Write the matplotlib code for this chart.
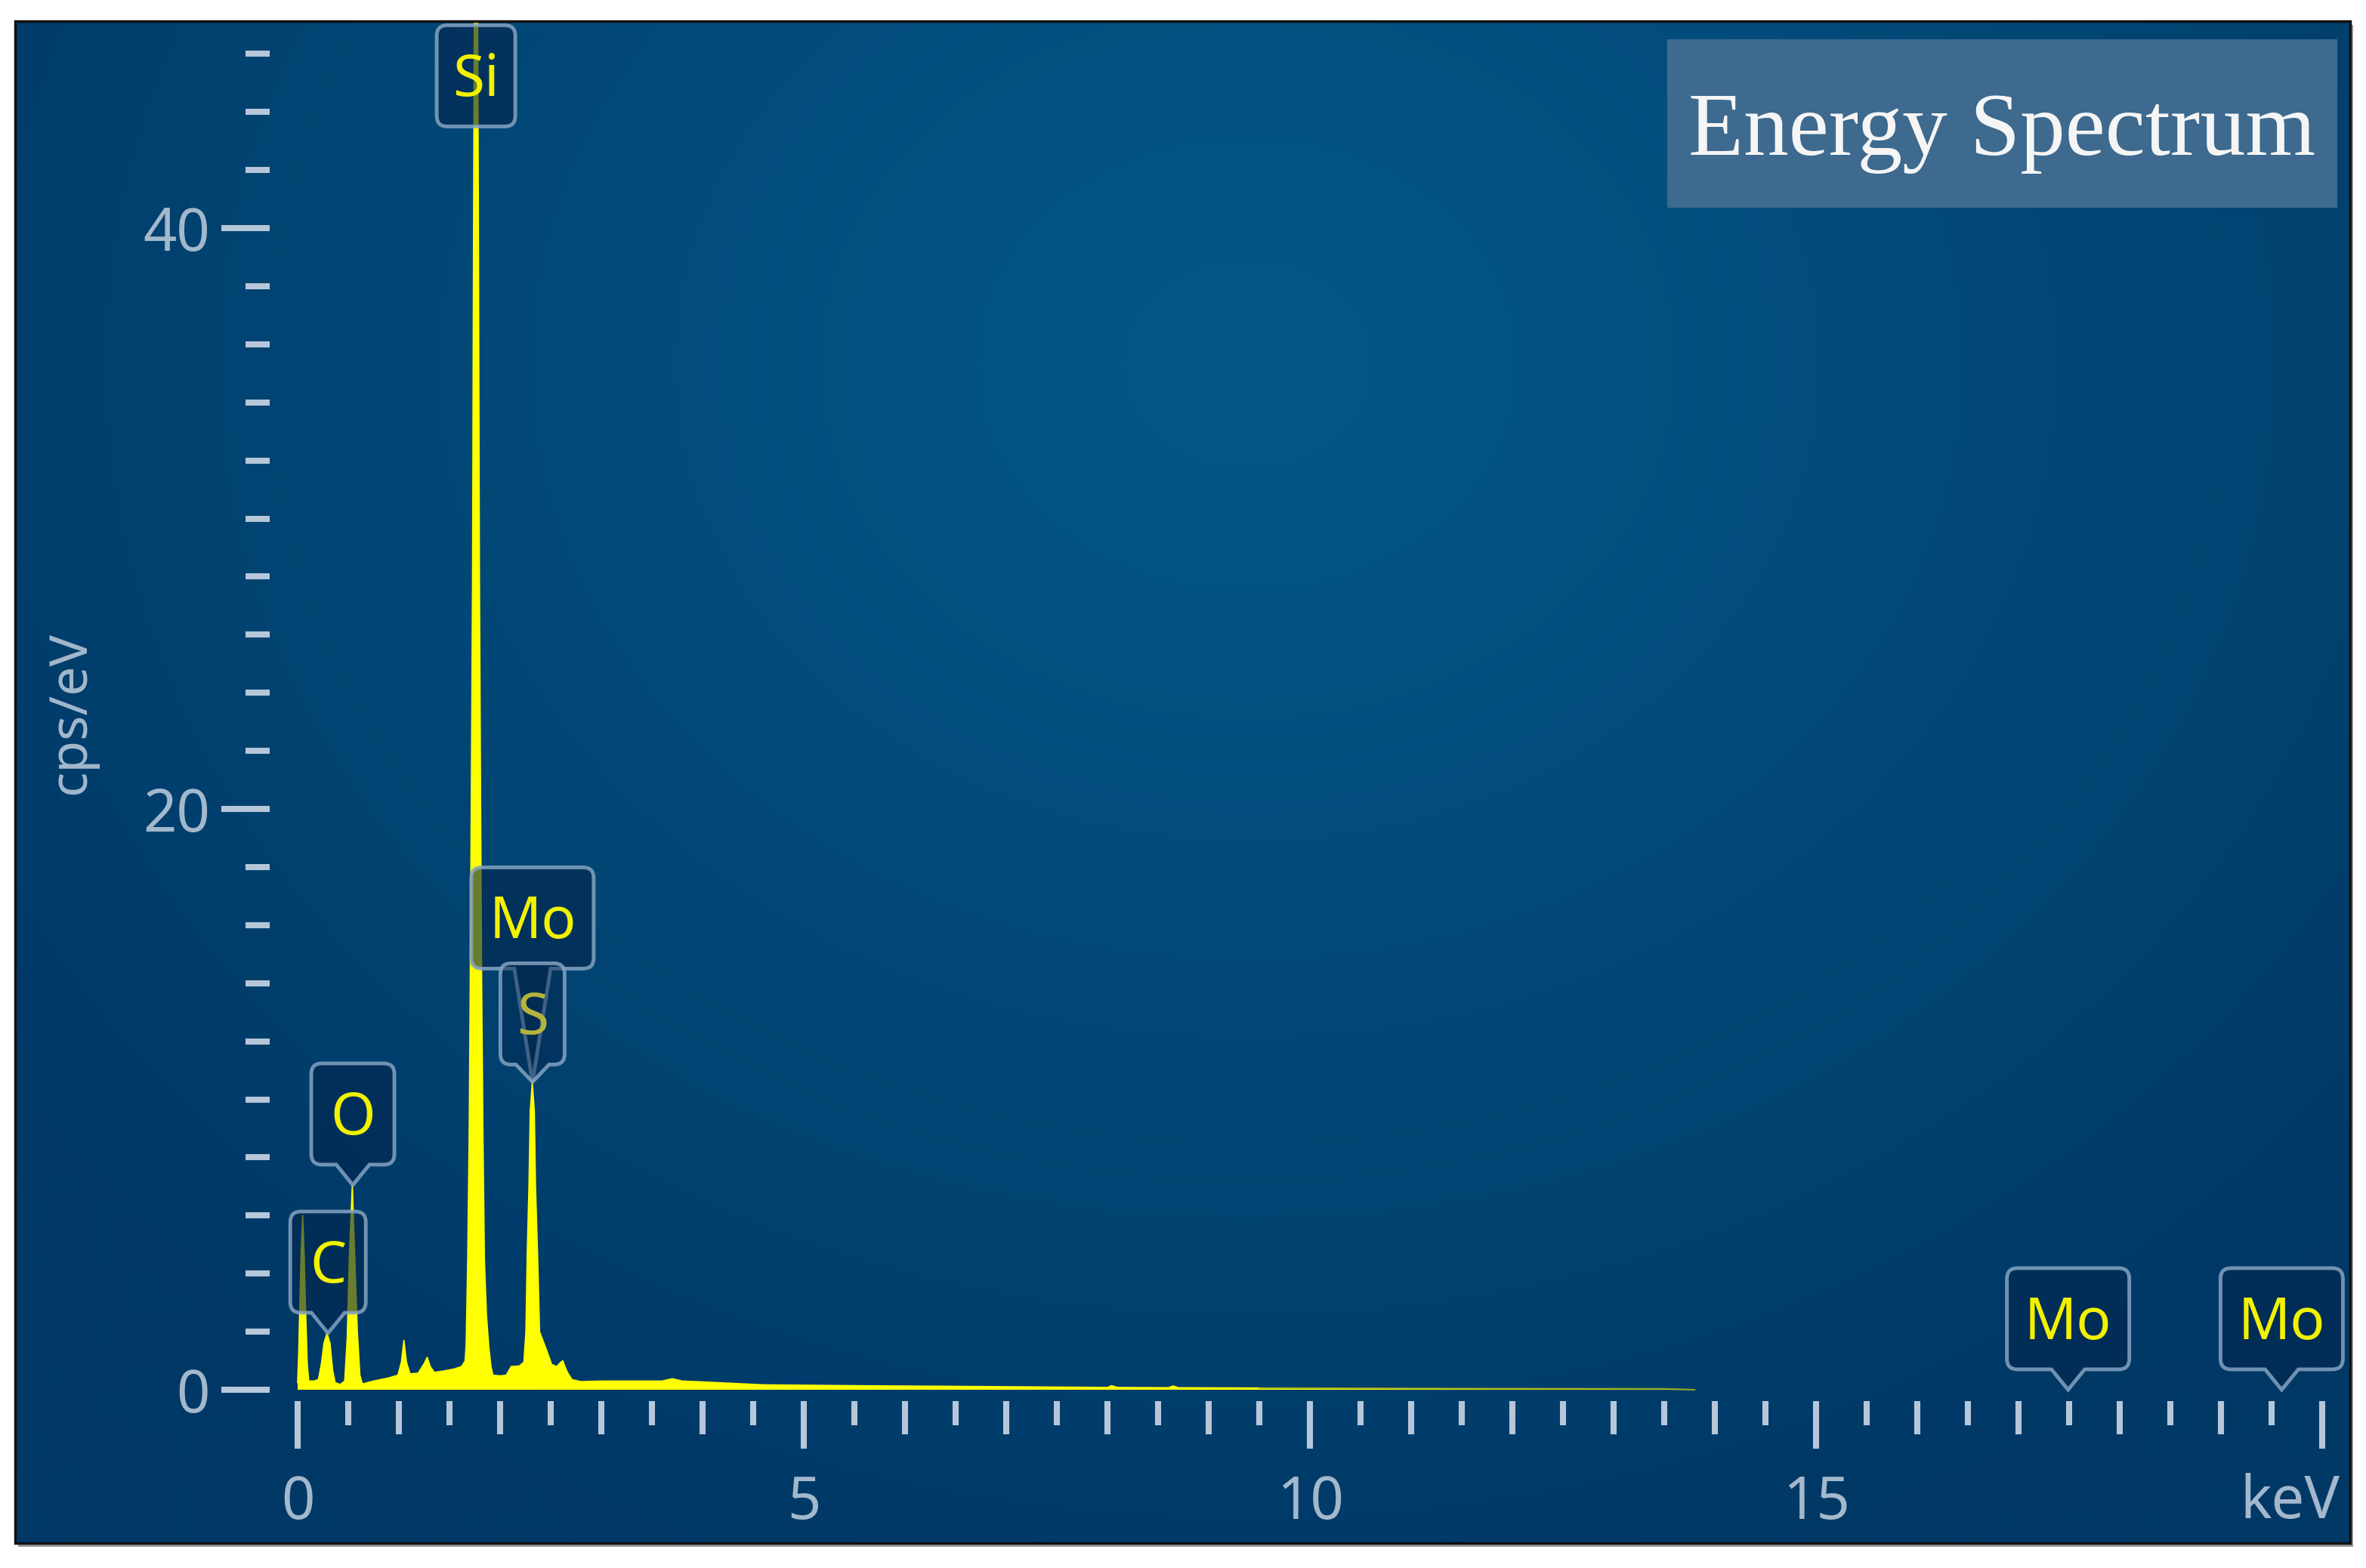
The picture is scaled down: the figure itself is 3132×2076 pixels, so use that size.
import numpy as np
import matplotlib
matplotlib.use("Agg")
import matplotlib.pyplot as plt
from matplotlib.path import Path
from matplotlib.patches import PathPatch, Rectangle
from matplotlib.transforms import IdentityTransform
from matplotlib.ticker import FixedLocator, NullFormatter

plt.rcParams['font.family'] = ['Noto Sans', 'DejaVu Sans']

# spectrum outline
energy_kev = [0.000, 0.010, 0.020, 0.035, 0.050, 0.065, 0.080, 0.095, 0.110, 0.160,
              0.205, 0.235, 0.260, 0.290, 0.320, 0.345, 0.370, 0.420, 0.465, 0.490,
              0.510, 0.540, 0.565, 0.590, 0.615, 0.640, 0.750, 0.890, 0.990, 1.025,
              1.050, 1.075, 1.110, 1.190, 1.250, 1.280, 1.310, 1.350, 1.450, 1.550,
              1.620, 1.655, 1.665, 1.680, 1.695, 1.705, 1.715, 1.728, 1.738, 1.748,
              1.762, 1.776, 1.786, 1.796, 1.808, 1.818, 1.830, 1.845, 1.865, 1.888,
              1.910, 1.930, 2.000, 2.060, 2.110, 2.190, 2.235, 2.255, 2.268, 2.285,
              2.298, 2.318, 2.338, 2.350, 2.370, 2.390, 2.450, 2.510, 2.560, 2.600,
              2.620, 2.640, 2.665, 2.710, 2.800, 3.000, 3.300, 3.600, 3.700, 3.800,
              4.000, 4.600, 5.500, 6.400, 7.200, 8.000, 8.040, 8.100, 8.600, 8.650,
              8.700, 9.500, 10.50, 11.50, 12.50, 13.50, 13.80]
cps_per_ev = [0.25, 1.2, 2.7, 4.8, 6.0, 4.6, 2.6, 0.9, 0.30, 0.30,
              0.35, 0.9, 1.6, 1.95, 1.6, 0.7, 0.25, 0.18, 0.30, 1.8,
              4.5, 7.05, 4.5, 2.0, 0.5, 0.20, 0.30, 0.40, 0.50, 0.95,
              1.70, 0.95, 0.55, 0.57, 0.90, 1.12, 0.80, 0.60, 0.65, 0.72,
              0.80, 1.00, 1.6, 4.5, 9.0, 14.0, 20.0, 28.0, 40.0, 50.0,
              56.0, 50.0, 40.0, 28.0, 20.0, 14.0, 9.0, 4.5, 2.6, 1.5,
              0.80, 0.50, 0.48, 0.50, 0.80, 0.82, 0.95, 2.0, 4.7, 7.0,
              9.6, 10.6, 9.6, 7.0, 4.7, 2.0, 1.45, 0.87, 0.80, 0.95,
              1.00, 0.80, 0.60, 0.35, 0.28, 0.30, 0.30, 0.30, 0.38, 0.30,
              0.27, 0.17, 0.14, 0.12, 0.10, 0.08, 0.14, 0.08, 0.07, 0.13,
              0.07, 0.06, 0.05, 0.04, 0.035, 0.03, 0.0]

# element markers: text, energy, height of the pointer tip
label_text = ["C", "O", "Si", "Mo", "S", "Mo", "Mo"]
label_kev = [0.30, 0.545, 1.762, 2.32, 2.32, 17.49, 19.60]
label_tip = [1.95, 7.05, 43.5, 10.6, 10.6, 0.0, 0.0]

y_major = [0, 20, 40]
y_minor = [v for v in range(2, 47, 2) if v not in y_major]
x_major = [0, 5, 10, 15, 20]
x_major_labels = ["0", "5", "10", "15", ""]
x_minor = [v for v in range(1, 20) if v % 5 != 0]
x_half = [v + 0.5 for v in range(0, 20)]

# ---- layout (pixels of the 3132x2076 picture) ----
W, H = 3132, 2076
X0_PX, PX_KEV = 394.0, 134.0       # x = 0 keV, pixels per keV
Y0_PX, PX_CPS = 1840.0, 38.45      # y = 0, pixels per cps/eV
PL, PT, PR, PB = 20, 28, 3111, 2043

fig = plt.figure(figsize=(W / 100, H / 100), dpi=100)
fig.patch.set_facecolor("white")
ax = fig.add_axes([PL / W, 1 - PB / H, (PR - PL) / W, (PB - PT) / H])
ax.set_xlim((PL - X0_PX) / PX_KEV, (PR - X0_PX) / PX_KEV)
ax.set_ylim((Y0_PX - PB) / PX_CPS, (Y0_PX - PT) / PX_CPS)
for s in ax.spines.values():
    s.set_visible(False)

# radial blue background
gy, gx = np.mgrid[PT:PB:4, PL:PR:4]
r = np.sqrt((gx - 1650.0) ** 2 + ((gy - 480.0) * 1.2) ** 2) / 2000.0
t = np.clip(r, 0, 1)[..., None] ** 1.1
c_mid = np.array([4, 88, 136]) / 255.0
c_edge = np.array([0, 56, 102]) / 255.0
bg = c_mid * (1 - t) + c_edge * t
ax.imshow(bg, extent=(0, 1, 0, 1), transform=ax.transAxes, aspect="auto",
          origin="upper", zorder=0, interpolation="bilinear")

# panel frame and shadow
fig.add_artist(Rectangle(((PL + 4) / W, 1 - (PB + 5) / H), (PR - PL) / W, (PB - PT) / H,
                         transform=fig.transFigure, fc="#9a9a9a", ec="none", zorder=-1))
fig.add_artist(Rectangle((PL / W, 1 - PB / H), (PR - PL) / W, (PB - PT) / H,
                         transform=fig.transFigure, fill=False, ec="#111111", lw=2.5, zorder=6))

# spectrum: bright up to ~9.5 keV, fading tail after
e = np.array(energy_kev)
c = np.array(cps_per_ev)
ax.fill_between(e, 0, c, color="#ffff00", lw=0, zorder=2)
near = e <= 9.5
ax.plot(e[near], c[near], color="#ffff00", lw=1.2, zorder=2)
ax.plot(e[e >= 9.5], c[e >= 9.5], color="#a6b41e", lw=1.6, alpha=0.8, zorder=2)

# ticks
tick_c = "#b6c7d9"
lab_c = "#a3b8cc"
ax.spines["left"].set_position(("data", (357 - X0_PX) / PX_KEV))
ax.spines["bottom"].set_position(("data", (Y0_PX - 1855) / PX_CPS))
ax.yaxis.set_major_locator(FixedLocator(y_major))
ax.yaxis.set_minor_locator(FixedLocator(y_minor))
ax.tick_params(axis="y", which="major", direction="out", length=46, width=5.8,
               color=tick_c, pad=11, labelsize=56, labelcolor=lab_c)
ax.tick_params(axis="y", which="minor", direction="out", length=23, width=5.8, color=tick_c)
ax.xaxis.set_major_locator(FixedLocator(x_major))
ax.set_xticklabels(x_major_labels)
ax.xaxis.set_minor_locator(FixedLocator(x_minor))
ax.tick_params(axis="x", which="major", direction="out", length=45, width=5.8,
               color=tick_c, pad=24, labelsize=56, labelcolor=lab_c)
ax.tick_params(axis="x", which="minor", direction="out", length=32, width=5.8, color=tick_c)

ax2 = ax.twiny()
ax2.set_xlim(ax.get_xlim())
for s in ax2.spines.values():
    s.set_visible(False)
ax2.xaxis.set_ticks_position("bottom")
ax2.spines["bottom"].set_position(("data", (Y0_PX - 1855) / PX_CPS))
ax2.xaxis.set_major_locator(FixedLocator(x_half))
ax2.xaxis.set_major_formatter(NullFormatter())
ax2.tick_params(axis="x", which="major", direction="out", length=23, width=5.8, color=tick_c)
ax2.tick_params(axis="x", which="minor", length=0)

fig.text(94 / W, 1 - 944 / H, "cps/eV", rotation=90, ha="center", va="center",
         fontsize=50, color=lab_c)
fig.text(3097 / W, 1 - 2010 / H, "keV", ha="right", va="baseline", fontsize=56, color=lab_c)

# title box
fig.add_artist(Rectangle((2207 / W, 1 - 275 / H), (3094 - 2207) / W, (275 - 52) / H,
                         transform=fig.transFigure, fc="#3d6a8e", ec="none", zorder=7))
fig.text(2650 / W, 1 - 205 / H, "Energy Spectrum", ha="center", va="baseline",
         fontsize=86, color="#f5f5f5", family="Liberation Serif", zorder=8)


# element callouts
def callout(cx, tip, w, plen, half=22, bh=134, rad=14, face_alpha=0.6, z=4):
    yb = tip + plen
    yt = yb + bh
    xl, xr = cx - w / 2, cx + w / 2
    verts, codes = [], []
    if plen > 0:
        verts += [(cx, tip), (cx + half, yb)]
    else:
        verts += [(cx, yb)]
    codes += [Path.MOVETO] + [Path.LINETO] * (len(verts) - 1)
    verts += [(xr - rad, yb), (xr, yb), (xr, yb + rad), (xr, yt - rad), (xr, yt), (xr - rad, yt),
              (xl + rad, yt), (xl, yt), (xl, yt - rad), (xl, yb + rad), (xl, yb), (xl + rad, yb)]
    codes += [Path.LINETO, Path.CURVE3, Path.CURVE3, Path.LINETO, Path.CURVE3, Path.CURVE3,
              Path.LINETO, Path.CURVE3, Path.CURVE3, Path.LINETO, Path.CURVE3, Path.CURVE3]
    if plen > 0:
        verts += [(cx - half, yb), (cx, tip)]
        codes += [Path.LINETO, Path.CLOSEPOLY]
    else:
        verts += [(cx, yb)]
        codes += [Path.CLOSEPOLY]
    p = Path(verts, codes)
    ax.add_artist(PathPatch(p, transform=IdentityTransform(), fc=(0.01, 0.15, 0.30, face_alpha),
                            ec=(0.52, 0.64, 0.76, 0.85), lw=3.5, zorder=z, clip_on=False))
    return (yb + yt) / 2


box_w = {"C": 100, "O": 110, "Si": 104, "Mo": 162, "S": 85}
for txt, kev, tip in zip(label_text, label_kev, label_tip):
    cx, ty = ax.transData.transform((kev, tip))
    plen, half, alpha, tcol, z = 27, 22, 0.6, "#f2f200", 4
    if txt == "Si":
        plen = 0
    if txt == "Mo" and kev < 5:
        plen, half = 150, 24
    if txt == "S":
        plen, alpha, tcol, z = 23, 0.45, "#b4b43c", 5
    mid = callout(cx, ty, box_w[txt], plen, half=half, face_alpha=alpha, z=z)
    ax.text(cx, mid - 27, txt, transform=IdentityTransform(), ha="center", va="baseline",
            fontsize=55, color=tcol, zorder=z + 0.5)

fig.savefig("out.png", dpi=100)
